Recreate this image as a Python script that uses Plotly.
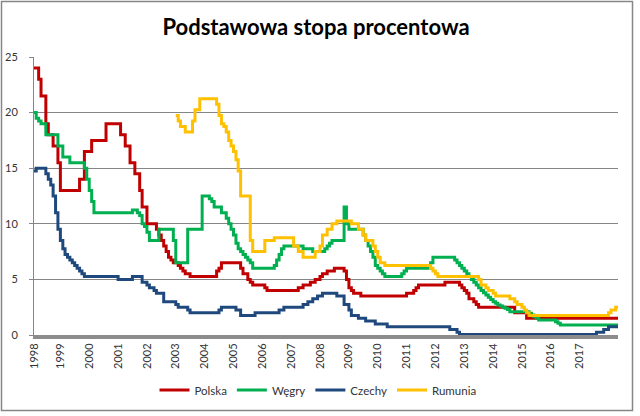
import plotly.graph_objects as go

# Change points (month, rate %); the rate holds until the next point
POLSKA = [
    ("1998-02", 24), ("1998-04", 23), ("1998-05", 21.5), ("1998-07", 19), ("1998-08", 18),
    ("1998-10", 17), ("1998-12", 15.5), ("1999-01", 13), ("1999-09", 14), ("1999-11", 16.5),
    ("2000-02", 17.5), ("2000-08", 19), ("2001-02", 18), ("2001-04", 17), ("2001-06", 15.5),
    ("2001-08", 14.5), ("2001-10", 13), ("2001-11", 11.5), ("2002-01", 10), ("2002-05", 9.5),
    ("2002-06", 9), ("2002-07", 8.5), ("2002-08", 8), ("2002-09", 7.5), ("2002-10", 7),
    ("2002-11", 6.75), ("2002-12", 6.5), ("2003-02", 6.25), ("2003-03", 6), ("2003-04", 5.75),
    ("2003-05", 5.5), ("2003-07", 5.25), ("2004-06", 5.75), ("2004-07", 6), ("2004-08", 6.5),
    ("2005-04", 6), ("2005-05", 5.5), ("2005-07", 5), ("2005-08", 4.75), ("2005-09", 4.5),
    ("2006-02", 4.25), ("2006-03", 4), ("2007-04", 4.25), ("2007-06", 4.5), ("2007-09", 4.75),
    ("2007-11", 5), ("2008-01", 5.25), ("2008-02", 5.5), ("2008-04", 5.75), ("2008-07", 6),
    ("2008-11", 5.75), ("2008-12", 5), ("2009-01", 4.25), ("2009-02", 4), ("2009-03", 3.75),
    ("2009-06", 3.5), ("2011-01", 3.75), ("2011-04", 4), ("2011-05", 4.25), ("2011-06", 4.5),
    ("2012-05", 4.75), ("2012-11", 4.5), ("2012-12", 4.25), ("2013-01", 4), ("2013-02", 3.75),
    ("2013-03", 3.25), ("2013-05", 3), ("2013-06", 2.75), ("2013-07", 2.5), ("2014-10", 2),
    ("2015-03", 1.5), ("2018-05", 1.5),
]

WEGRY = [
    ("1998-02", 20), ("1998-03", 19.5), ("1998-04", 19.25), ("1998-05", 19), ("1998-07", 18),
    ("1998-12", 17), ("1999-02", 16), ("1999-05", 15.5), ("1999-11", 15), ("1999-12", 14),
    ("2000-01", 13), ("2000-02", 12), ("2000-03", 11), ("2001-07", 11.25), ("2001-09", 11),
    ("2001-10", 10.75), ("2001-11", 10), ("2001-12", 9.75), ("2002-01", 9.25), ("2002-02", 8.5),
    ("2002-06", 9.5), ("2002-12", 8.5), ("2003-01", 6.5), ("2003-06", 9.5), ("2003-12", 12.5),
    ("2004-03", 12.25), ("2004-04", 12), ("2004-05", 11.5), ("2004-08", 11), ("2004-10", 10.5),
    ("2004-11", 10), ("2004-12", 9.5), ("2005-01", 9), ("2005-02", 8.25), ("2005-03", 7.75),
    ("2005-04", 7.5), ("2005-05", 7.25), ("2005-06", 7), ("2005-07", 6.75), ("2005-08", 6.5),
    ("2005-09", 6), ("2006-06", 6.25), ("2006-07", 6.75), ("2006-08", 7.25), ("2006-09", 7.75),
    ("2006-10", 8), ("2007-06", 7.75), ("2007-10", 7.5), ("2008-03", 7.75), ("2008-04", 8),
    ("2008-05", 8.25), ("2008-06", 8.5), ("2008-11", 11.5), ("2008-12", 10), ("2009-01", 9.5),
    ("2009-07", 9), ("2009-08", 8.5), ("2009-09", 8), ("2009-10", 7.5), ("2009-11", 7),
    ("2009-12", 6.25), ("2010-01", 6), ("2010-02", 5.75), ("2010-03", 5.5), ("2010-04", 5.25),
    ("2010-11", 5.5), ("2010-12", 5.75), ("2011-01", 6), ("2011-11", 6.5), ("2011-12", 7),
    ("2012-09", 6.75), ("2012-10", 6.5), ("2012-11", 6.25), ("2012-12", 6), ("2013-01", 5.75),
    ("2013-02", 5.5), ("2013-03", 5.25), ("2013-04", 5), ("2013-05", 4.75), ("2013-06", 4.5),
    ("2013-07", 4.25), ("2013-08", 4), ("2013-09", 3.8), ("2013-10", 3.6), ("2013-11", 3.4),
    ("2013-12", 3.2), ("2014-01", 3), ("2014-02", 2.85), ("2014-03", 2.7), ("2014-04", 2.6),
    ("2014-05", 2.5), ("2014-06", 2.4), ("2014-07", 2.3), ("2014-08", 2.1), ("2015-04", 1.95),
    ("2015-05", 1.8), ("2015-06", 1.65), ("2015-07", 1.5), ("2015-08", 1.35), ("2016-03", 1.2),
    ("2016-04", 1.05), ("2016-05", 0.9), ("2018-05", 0.9),
]

CZECHY = [
    ("1998-02", 14.75), ("1998-03", 15), ("1998-07", 14.5), ("1998-08", 14), ("1998-09", 13.5),
    ("1998-10", 12.5), ("1998-11", 11), ("1998-12", 9.5), ("1999-01", 8.5), ("1999-02", 7.75),
    ("1999-03", 7.25), ("1999-04", 7), ("1999-05", 6.75), ("1999-06", 6.5), ("1999-07", 6.25),
    ("1999-08", 6), ("1999-09", 5.75), ("1999-10", 5.5), ("1999-11", 5.25), ("2001-01", 5),
    ("2001-07", 5.25), ("2001-11", 4.75), ("2002-01", 4.5), ("2002-02", 4.25), ("2002-04", 4),
    ("2002-05", 3.75), ("2002-08", 3), ("2003-01", 2.75), ("2003-02", 2.5), ("2003-06", 2.25),
    ("2003-07", 2), ("2004-07", 2.25), ("2004-08", 2.5), ("2005-02", 2.25), ("2005-04", 1.75),
    ("2005-10", 2), ("2006-08", 2.25), ("2006-10", 2.5), ("2007-06", 2.75), ("2007-08", 3),
    ("2007-10", 3.25), ("2007-12", 3.5), ("2008-02", 3.75), ("2008-08", 3.5), ("2008-11", 2.75),
    ("2009-01", 2.25), ("2009-02", 1.75), ("2009-05", 1.5), ("2009-08", 1.25), ("2009-12", 1),
    ("2010-05", 0.75), ("2012-07", 0.5), ("2012-10", 0.25), ("2012-11", 0.05), ("2017-08", 0.25),
    ("2017-11", 0.5), ("2018-01", 0.75), ("2018-05", 0.75),
]

RUMUNIA = [
    ("2003-01", 19.75), ("2003-02", 19.25), ("2003-03", 18.75), ("2003-05", 18.25), ("2003-08", 19.25),
    ("2003-09", 20.25), ("2003-11", 21.25), ("2004-06", 20.75), ("2004-07", 19.75), ("2004-08", 19),
    ("2004-09", 18.75), ("2004-10", 18.25), ("2004-11", 17.5), ("2004-12", 17), ("2005-01", 16.5),
    ("2005-02", 15.75), ("2005-03", 14.75), ("2005-04", 12.5), ("2005-08", 8.5), ("2005-09", 7.5),
    ("2006-02", 8.5), ("2006-06", 8.75), ("2007-02", 8), ("2007-04", 7.5), ("2007-06", 7),
    ("2007-11", 7.5), ("2008-01", 8), ("2008-02", 9), ("2008-04", 9.5), ("2008-06", 10),
    ("2008-08", 10.25), ("2009-02", 10), ("2009-05", 9.5), ("2009-07", 9), ("2009-08", 8.5),
    ("2009-11", 8), ("2009-12", 7.5), ("2010-01", 7), ("2010-02", 6.5), ("2010-04", 6.25),
    ("2011-11", 6), ("2011-12", 5.75), ("2012-01", 5.5), ("2012-02", 5.25), ("2013-07", 5),
    ("2013-08", 4.5), ("2013-10", 4.25), ("2013-11", 4), ("2014-01", 3.75), ("2014-02", 3.5),
    ("2014-08", 3.25), ("2014-10", 3), ("2014-11", 2.75), ("2015-01", 2.5), ("2015-02", 2.25),
    ("2015-03", 2), ("2015-04", 1.75), ("2018-01", 2), ("2018-02", 2.25), ("2018-04", 2.5),
    ("2018-05", 2.5),
]

SERIES = [
    ("Polska", POLSKA, "#C00000"),
    ("Węgry", WEGRY, "#00B050"),
    ("Czechy", CZECHY, "#1F497D"),
    ("Rumunia", RUMUNIA, "#FFC000"),
]

YEARS = list(range(1998, 2018))
Y_TICKS = [0, 5, 10, 15, 20, 25]

TITLE = "Podstawowa stopa procentowa"
FONT = "Lato"
GRID_COLOR = "#868686"

# plot area in pixels
W, H = 640, 416
L, R, T, B = 34, 618, 57, 335

fig = go.Figure()
for name, pts, color in SERIES:
    fig.add_trace(go.Scatter(
        x=[d + "-01" for d, v in pts],
        y=[v for d, v in pts],
        mode="lines",
        line=dict(color=color, width=3, shape="hv"),
        name=name,
    ))

# first label sits at the axis start, the others on 1 January
tickvals = ["1998-02-01"] + ["%d-01-01" % y for y in YEARS[1:]]
ticktext = [str(y) for y in YEARS]

def px_x(p):
    return (p - L) / (R - L)

def px_y(p):
    return (B - p) / (B - T)

fig.update_layout(
    width=W, height=H,
    margin=dict(l=L, r=W - R, t=T, b=H - B, pad=0),
    paper_bgcolor="white",
    plot_bgcolor="white",
    font=dict(family=FONT, size=11, color="#333333"),
    title=dict(
        text="<b>" + TITLE + "</b>",
        font=dict(family=FONT, size=22, color="black"),
        x=316 / W, xanchor="center", xref="container",
        y=1 - 27 / H, yanchor="middle", yref="container",
    ),
    showlegend=True,
    legend=dict(
        orientation="h",
        x=318 / W, xanchor="center", xref="container",
        y=1 - 390 / H, yanchor="middle", yref="container",
        font=dict(family=FONT, size=11.5, color="#333333"),
        itemwidth=30,
        tracegroupgap=0,
    ),
    xaxis=dict(
        type="date",
        range=["1998-02-01", "2018-05-01"],
        tickmode="array",
        tickvals=tickvals,
        ticktext=ticktext,
        tickangle=-90,
        showgrid=False,
        zeroline=False,
        showline=True,
        linecolor="#8C8C8C",
        linewidth=4,
        ticks="",
        automargin=False,
        tickfont=dict(size=11, color="#333333"),
    ),
    yaxis=dict(
        range=[0, 25],
        tickvals=Y_TICKS,
        showgrid=True,
        gridcolor=GRID_COLOR,
        gridwidth=1,
        zeroline=False,
        showline=True,
        linecolor=GRID_COLOR,
        linewidth=1,
        ticks="outside",
        ticklen=4,
        tickcolor=GRID_COLOR,
        ticklabelstandoff=9,
        automargin=False,
        tickfont=dict(size=11, color="#333333"),
    ),
    shapes=[dict(
        type="rect", xref="paper", yref="paper",
        x0=px_x(1.5), x1=px_x(632.5), y0=px_y(410.5), y1=px_y(1.5),
        line=dict(color=GRID_COLOR, width=1.5),
        fillcolor="rgba(0,0,0,0)",
    )],
)

# the page body has a default 8px margin; drop it so the chart sits at the window origin
fig.write_html(
    "out.html",
    config={"displayModeBar": False},
    post_script="document.body.style.margin = '0px';",
)
